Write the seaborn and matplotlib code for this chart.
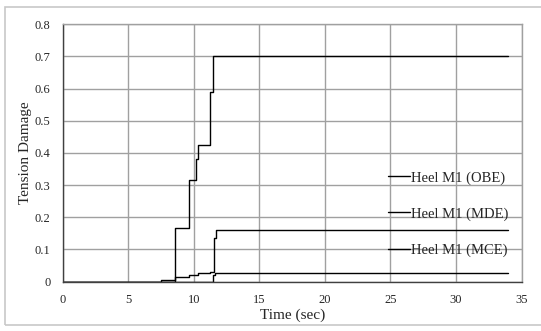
#!/usr/bin/env python3
#
# Tension damage vs time, heel M1
#
import numpy as np
import matplotlib
matplotlib.use('Agg')
import matplotlib.pyplot as plt
import seaborn as sns
import pandas as pd
from matplotlib.patches import Rectangle

# Step data (time in s, damage)
obe_t = [0, 7.5, 8.55, 9.6, 10.15, 10.3, 11.2, 11.5, 34]
obe_v = [0, 0.004, 0.167, 0.316, 0.38, 0.425, 0.59, 0.70, 0.70]

mde_t = [0, 8.55, 9.6, 10.3, 11.2, 11.55, 11.7, 34]
mde_v = [0, 0.016, 0.022, 0.027, 0.031, 0.135, 0.16, 0.16]

mce_t = [0, 11.5, 11.6, 34]
mce_v = [0, 0.02, 0.028, 0.028]

labels = ['Heel M1 (OBE)', 'Heel M1 (MDE)', 'Heel M1 (MCE)']

sns.set_style('white')
plt.rcParams['font.family'] = ['Liberation Serif', 'DejaVu Serif']

frames = []
for lab, t, v in zip(labels, [obe_t, mde_t, mce_t], [obe_v, mde_v, mce_v]):
    frames.append(pd.DataFrame({'time': t, 'damage': v, 'case': lab}))
df = pd.concat(frames, ignore_index=True)

fig = plt.figure(figsize=(5.41, 3.31), dpi=100)
ax = fig.add_axes([0.116, 0.149, 0.848, 0.778])

# Outer frame round the chart
fig.patches.append(Rectangle((0.009, 0.018), 0.995, 0.962, transform=fig.transFigure,
                             fill=False, edgecolor='#c8c8c8', linewidth=1.2))

sns.lineplot(data=df, x='time', y='damage', hue='case', sort=False, estimator=None,
             palette=['black'] * 3, drawstyle='steps-post', linewidth=1.0, ax=ax)

ax.set_xlim(0, 35)
ax.set_ylim(0, 0.8)
ax.set_xticks(np.arange(0, 36, 5))
ax.set_yticks(np.arange(0, 0.81, 0.1))
ax.set_yticklabels(['0'] + ['%.1f' % y for y in np.arange(0.1, 0.81, 0.1)])
ax.grid(True, color='#a0a0a0', linewidth=1.0)
ax.set_axisbelow(True)

for s in ['top', 'right']:
    ax.spines[s].set_color('#a0a0a0')
for s in ['left', 'bottom']:
    ax.spines[s].set_color('#404040')
for s in ax.spines.values():
    s.set_linewidth(1.0)

ax.tick_params(axis='both', direction='out', length=4, width=1, color='#404040',
               labelsize=9, pad=5)
ax.set_xlabel('Time (sec)', fontsize=11, labelpad=2)
ax.set_ylabel('Tension Damage', fontsize=11, labelpad=2)

leg = ax.legend(loc='center left', bbox_to_anchor=(0.709, 0.263), frameon=False,
                fontsize=10.5, handlelength=1.5, handletextpad=0.1, labelspacing=1.55,
                borderpad=0, borderaxespad=0)
for h in leg.get_lines():
    h.set_linewidth(1.0)

plt.savefig('out.png', dpi=100)
